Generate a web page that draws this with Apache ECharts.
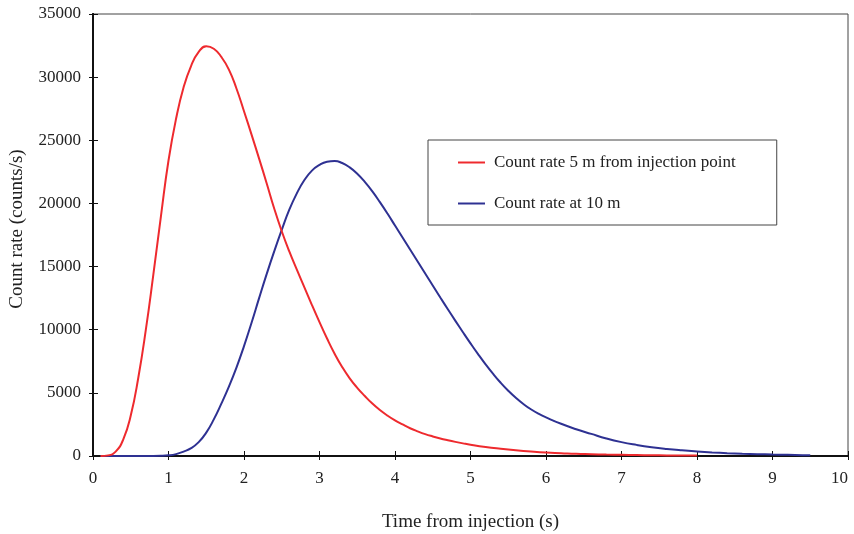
<!DOCTYPE html>
<html>
<head>
<meta charset="utf-8">
<script src="https://cdn.jsdelivr.net/npm/echarts@6/dist/echarts.min.js"></script>
<style>html,body{margin:0;padding:0;background:#fff}#c{width:854px;height:534px}</style>
</head>
<body>
<div id="c"></div>
<script>
var redT = [0.1,0.2,0.3,0.4,0.5,0.6,0.7,0.8,0.9,1.0,1.1,1.2,1.3,1.4,1.5,1.6,1.7,1.8,1.9,2.0,
            2.1,2.2,2.3,2.4,2.5,2.6,2.7,2.8,2.9,3.0,3.1,3.2,3.3,3.4,3.5,3.6,3.7,3.8,3.9,4.0,
            4.1,4.2,4.3,4.4,4.5,4.6,4.7,4.8,4.9,5.0,5.2,5.4,5.6,5.8,6.0,6.2,6.4,6.6,6.8,7.0,7.2,7.4,7.6,7.8,8.0];
var redV = [0,50,350,1300,3200,6200,10000,14400,19000,23400,26700,29200,30900,32000,32450,32250,31600,30600,29100,27300,
            25450,23550,21600,19600,17800,16200,14750,13350,11950,10600,9300,8100,7050,6150,5400,4750,4150,3640,3200,2820,
            2500,2200,1950,1730,1550,1390,1250,1120,1000,890,710,570,450,350,270,220,170,140,110,90,75,60,45,35,30];
var blueT = [0.1,0.3,0.5,0.7,0.9,1.0,1.1,1.2,1.3,1.4,1.5,1.6,1.7,1.8,1.9,2.0,2.1,2.2,2.3,2.4,2.5,2.6,2.7,2.8,2.9,3.0,
             3.1,3.2,3.3,3.4,3.5,3.6,3.7,3.8,3.9,4.0,4.1,4.2,4.3,4.4,4.5,4.6,4.7,4.8,4.9,5.0,5.1,5.2,5.3,5.4,5.5,5.6,5.7,5.8,5.9,6.0,
             6.2,6.4,6.6,6.8,7.0,7.2,7.4,7.6,7.8,8.0,8.2,8.4,8.6,8.8,9.0,9.2,9.4,9.5];
var blueV = [0,0,0,0,15,50,150,350,620,1100,1850,2900,4150,5500,7000,8700,10550,12500,14400,16200,17900,19500,20800,21850,22600,23050,
             23300,23360,23200,22850,22350,21700,20950,20100,19200,18250,17300,16350,15400,14450,13500,12550,11620,10700,9800,8920,8070,7260,6500,5800,5170,4610,4120,3700,3350,3060,
             2550,2120,1750,1390,1100,880,700,560,450,360,285,225,180,145,115,90,65,50];
var seriesNames = ['Count rate 5 m from injection point', 'Count rate at 10 m'];
var xTitle = 'Time from injection (s)';
var yTitle = 'Count rate (counts/s)';

function pairs(t, v) { return t.map(function (x, i) { return [x, v[i]]; }); }
function plain(v) { return String(v); }

var font = 'Liberation Serif';
var chart = echarts.init(document.getElementById('c'));
var baseX = {
  type: 'value', min: 0, max: 10, interval: 1,
  axisLine: { show: true, onZero: false, lineStyle: { color: '#111', width: 2 } },
  splitLine: { show: false }
};
var baseY = {
  type: 'value', min: 0, max: 35000, interval: 5000,
  axisLine: { show: true, onZero: false, lineStyle: { color: '#111', width: 2 } },
  splitLine: { show: false }
};
chart.setOption({
  animation: false,
  backgroundColor: '#fff',
  grid: { left: 93, right: 6, top: 14, bottom: 78, show: true, borderColor: '#444', borderWidth: 1, outerBoundsMode: 'none', containLabel: false },
  legend: {
    orient: 'vertical', left: 428, top: 140,
    padding: [14, 41, 13, 30],
    borderColor: '#444', borderWidth: 1,
    icon: 'rect', itemWidth: 27, itemHeight: 2, itemGap: 24,
    textStyle: { fontFamily: font, fontSize: 17, color: '#222', padding: [0, 0, 0, 4] },
    data: seriesNames
  },
  xAxis: [
    Object.assign({}, baseX, {
      name: xTitle, nameLocation: 'middle', nameGap: 57,
      nameTextStyle: { fontFamily: font, fontSize: 19, color: '#222' },
      axisTick: { show: true, inside: false, length: 4, lineStyle: { color: '#111', width: 1 } },
      axisLabel: { fontFamily: font, fontSize: 17, color: '#222', margin: 14, formatter: plain, alignMaxLabel: 'right' }
    }),
    Object.assign({}, baseX, {
      position: 'bottom',
      axisTick: { show: true, inside: true, length: 5, lineStyle: { color: '#111', width: 1 } },
      axisLabel: { show: false }
    })
  ],
  yAxis: [
    Object.assign({}, baseY, {
      name: yTitle, nameLocation: 'middle', nameGap: 66,
      nameTextStyle: { fontFamily: font, fontSize: 19, color: '#222', padding: [0, 0, 0, 12] },
      axisTick: { show: true, inside: false, length: 4, lineStyle: { color: '#111', width: 1 } },
      axisLabel: { fontFamily: font, fontSize: 17, color: '#222', margin: 12, formatter: plain }
    }),
    Object.assign({}, baseY, {
      position: 'left',
      axisTick: { show: true, inside: true, length: 5, lineStyle: { color: '#111', width: 1 } },
      axisLabel: { show: false }
    })
  ],
  series: [
    {
      name: seriesNames[0], type: 'line', smooth: 0.5, showSymbol: false, symbol: 'none',
      data: pairs(redT, redV), color: '#ee2a2e',
      lineStyle: { color: '#ee2a2e', width: 2 }, z: 3
    },
    {
      name: seriesNames[1], type: 'line', smooth: 0.5, showSymbol: false, symbol: 'none',
      data: pairs(blueT, blueV), color: '#2e3192',
      lineStyle: { color: '#2e3192', width: 2 }, z: 2
    }
  ]
});
</script>
</body>
</html>
